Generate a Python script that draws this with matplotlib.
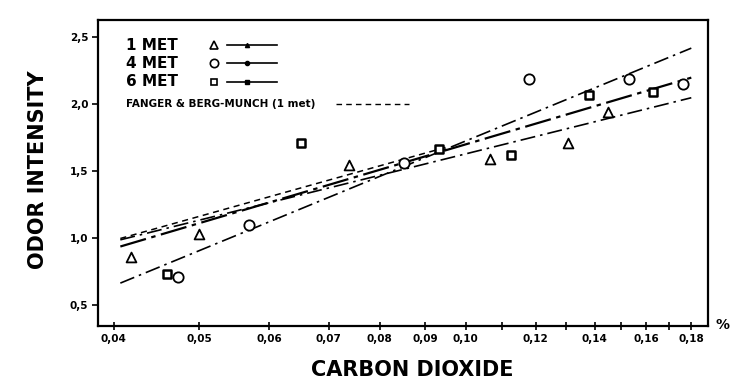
import numpy as np
import matplotlib
matplotlib.use("Agg")
import matplotlib.pyplot as plt
from matplotlib.ticker import FixedLocator, NullFormatter

# measured points (CO2 %, odor intensity)
met1_x = [0.0418, 0.0499, 0.0738, 0.1065, 0.1306, 0.145]
met1_y = [0.86, 1.03, 1.55, 1.59, 1.71, 1.94]
met4_x = [0.0473, 0.0569, 0.0851, 0.118, 0.153, 0.176]
met4_y = [0.71, 1.10, 1.56, 2.19, 2.19, 2.15]
met6_x = [0.046, 0.0652, 0.0932, 0.1125, 0.138, 0.163]
met6_y = [0.735, 1.71, 1.67, 1.62, 2.07, 2.09]

# regression lines, read at their end points
fit_x = [0.0407, 0.18]
fit1_y = [0.99, 2.05]
fit4_y = [0.667, 2.42]
fit6_y = [0.94, 2.20]
fanger_x = [0.0407, 0.095]
fanger_y = [1.00, 1.68]

xticks = [0.04, 0.05, 0.06, 0.07, 0.08, 0.09, 0.10, 0.12, 0.14, 0.16, 0.18]
xticklabels = ["0,04", "0,05", "0,06", "0,07", "0,08", "0,09", "0,10",
               "0,12", "0,14", "0,16", "0,18"]
xminor = [0.11, 0.13, 0.15, 0.17]
yticks = [0.5, 1.0, 1.5, 2.0, 2.5]
yticklabels = ["0,5", "1,0", "1,5", "2,0", "2,5"]

fig = plt.figure(figsize=(7.3, 3.85), dpi=100)
ax = fig.add_axes([98 / 730, 1 - 326 / 385, 610 / 730, 306 / 385])

ax.set_xscale("log")
ax.set_xlim(0.0384, 0.188)
ax.set_ylim(0.347, 2.63)

ax.plot(fit_x, fit4_y, color="black", lw=1.2, ls=(0, (9, 3, 1.5, 3)))
ax.plot(fit_x, fit6_y, color="black", lw=1.6, ls=(0, (12, 2.5, 2, 2.5)))
ax.plot(fit_x, fit1_y, color="black", lw=1.2, ls=(0, (9, 3, 1.5, 3)))
ax.plot(fanger_x, fanger_y, color="black", lw=1.1, ls=(0, (4, 3)))

ax.scatter(met1_x, met1_y, marker="^", s=50, facecolors="white", edgecolors="black", linewidths=1.3, zorder=3)
ax.scatter(met4_x, met4_y, marker="o", s=55, facecolors="white", edgecolors="black", linewidths=1.3, zorder=3)
ax.scatter(met6_x, met6_y, marker="s", s=30, facecolors="white", edgecolors="black", linewidths=1.8, zorder=3)

ax.xaxis.set_major_locator(FixedLocator(xticks))
ax.set_xticklabels(xticklabels)
ax.xaxis.set_minor_locator(FixedLocator(xminor))
ax.xaxis.set_minor_formatter(NullFormatter())
ax.set_yticks(yticks)
ax.set_yticklabels(yticklabels)
ax.tick_params(axis="x", which="both", direction="inout", length=6, width=1.2, labelsize=7.5, pad=3)
ax.tick_params(axis="y", direction="out", length=4, width=1.2, labelsize=7.5, pad=3)
for lab in ax.get_xticklabels() + ax.get_yticklabels():
    lab.set_fontweight("bold")
for sp in ax.spines.values():
    sp.set_linewidth(1.6)

# hand-drawn style legend
rows = [("1 MET", "^", 6, (0, (9, 3, 1.5, 3))),
        ("4 MET", "o", 6, (0, (3, 2, 1.5, 2, 8, 2))),
        ("6 MET", "s", 5, (0, (12, 2.5, 2, 2.5)))]
for i, (lab, mk, ms, ls) in enumerate(rows):
    yy = 0.918 - i * 0.060
    ax.text(0.046, yy, lab, transform=ax.transAxes, fontsize=11, fontweight="bold", va="center")
    ax.plot([0.190], [yy], transform=ax.transAxes, marker=mk, ms=ms, mfc="white", mec="black", mew=1.2)
    ax.plot([0.212, 0.293], [yy, yy], transform=ax.transAxes, color="black", lw=1.2, ls="-")
    ax.plot([0.245], [yy], transform=ax.transAxes, marker=mk, ms=3, color="black")
ax.text(0.046, 0.727, "FANGER & BERG-MUNCH (1 met)", transform=ax.transAxes,
        fontsize=7.5, fontweight="bold", va="center")
ax.plot([0.39, 0.51], [0.727, 0.727], transform=ax.transAxes, color="black", lw=1.0, ls=(0, (4, 3)))

fig.text(38 / 730, 1 - 170 / 385, "ODOR INTENSITY", rotation=90, fontsize=15,
         fontweight="bold", ha="center", va="center")
fig.text(412 / 730, 1 - 370 / 385, "CARBON DIOXIDE", fontsize=15,
         fontweight="bold", ha="center", va="center")
fig.text(722 / 730, 1 - 325 / 385, "%", fontsize=10, fontweight="bold", ha="center", va="center")

fig.savefig("out.png", dpi=100)
